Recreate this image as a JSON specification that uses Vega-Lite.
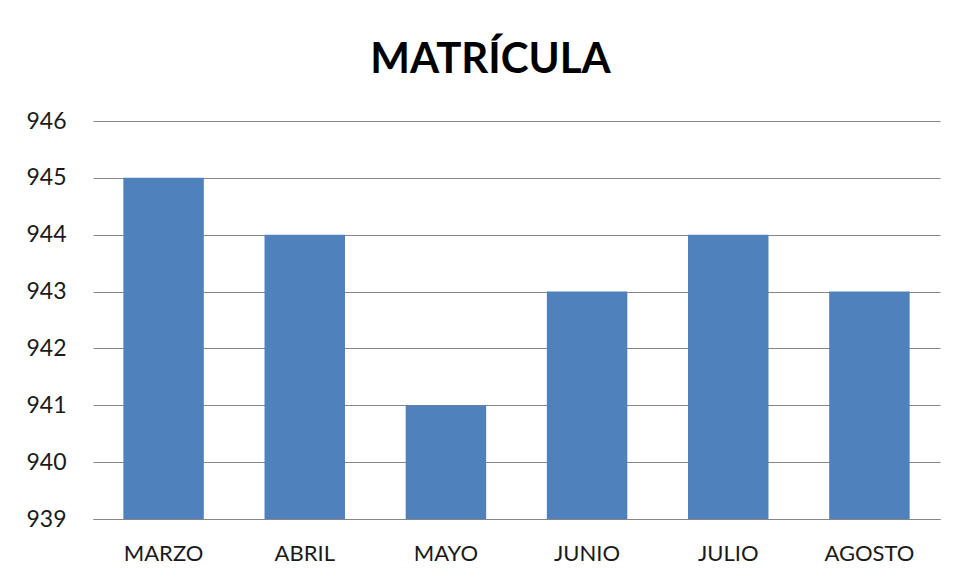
{
  "$schema": "https://vega.github.io/schema/vega-lite/v6.json",
  "autosize": "none",
  "width": 847,
  "height": 398,
  "padding": {"left": 93, "top": 121, "right": 14, "bottom": 59},
  "background": "white",
  "title": {
    "text": "MATRÍCULA",
    "font": "Lato",
    "fontSize": 42,
    "fontWeight": "bold",
    "color": "#000000",
    "anchor": "middle",
    "frame": "group",
    "dx": -26,
    "offset": 28
  },
  "data": {
    "values": [
      {"mes": "MARZO", "matricula": 945},
      {"mes": "ABRIL", "matricula": 944},
      {"mes": "MAYO", "matricula": 941},
      {"mes": "JUNIO", "matricula": 943},
      {"mes": "JULIO", "matricula": 944},
      {"mes": "AGOSTO", "matricula": 943}
    ]
  },
  "mark": {"type": "bar", "color": "#4F81BD"},
  "encoding": {
    "x": {
      "field": "mes",
      "type": "nominal",
      "sort": null,
      "scale": {"paddingInner": 0.43, "paddingOuter": 0.215},
      "axis": {
        "title": null,
        "labelAngle": 0,
        "labelFont": "Lato",
        "labelFontSize": 22,
        "labelColor": "#1a1a1a",
        "labelPadding": 24,
        "ticks": false,
        "domain": true,
        "domainColor": "#868686",
        "domainWidth": 1
      }
    },
    "y": {
      "field": "matricula",
      "type": "quantitative",
      "scale": {"domain": [939, 946], "zero": false, "nice": false},
      "axis": {
        "title": null,
        "values": [939, 940, 941, 942, 943, 944, 945, 946],
        "labelFont": "Lato",
        "labelFontSize": 23,
        "labelColor": "#1a1a1a",
        "labelPadding": 27,
        "ticks": false,
        "domain": false,
        "grid": true,
        "gridColor": "#868686",
        "gridWidth": 1,
        "format": "d"
      }
    },
    "y2": {"datum": 939}
  },
  "config": {
    "view": {"stroke": null}
  }
}
